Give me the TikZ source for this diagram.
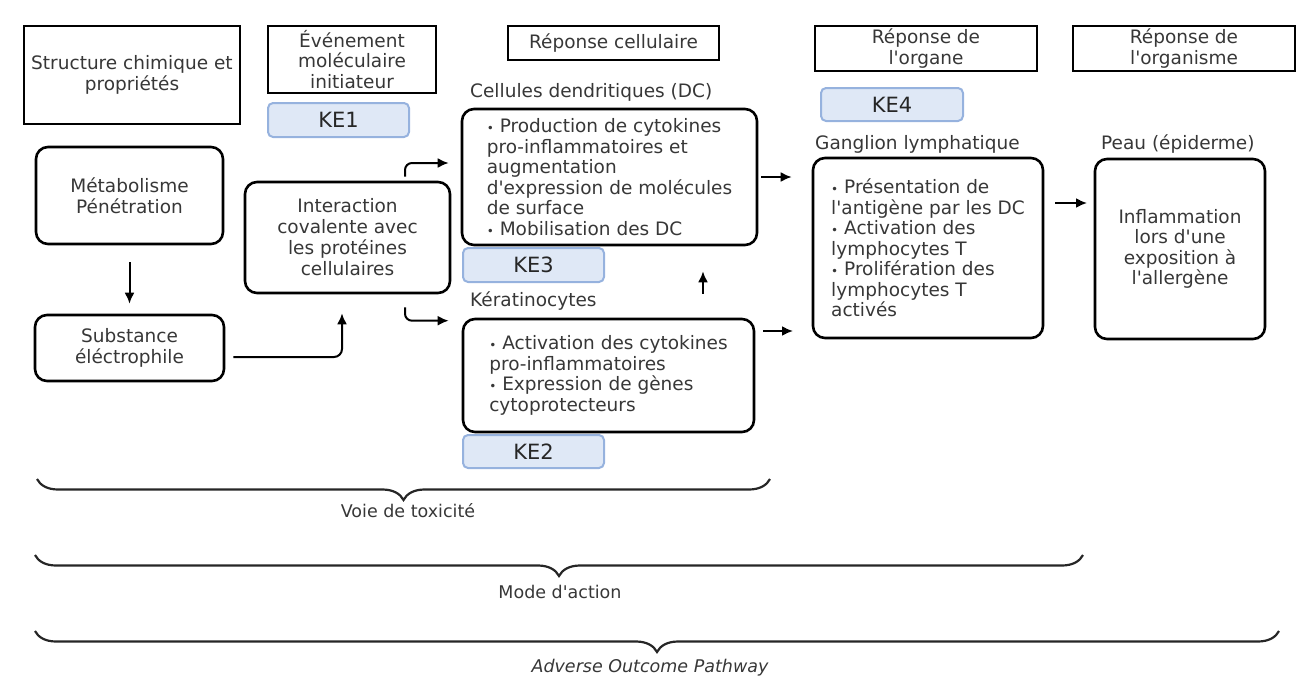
\documentclass[tikz,border=0pt]{standalone}
\usepackage{fontspec}
\setmainfont{DejaVu Sans}
\usetikzlibrary{arrows.meta,decorations.pathreplacing,calc}
\definecolor{txtgray}{RGB}{55,55,55}
\definecolor{kefill}{RGB}{223,232,246}
\definecolor{kedraw}{RGB}{150,178,222}
\newcommand{\bul}{{\fontsize{12}{12}\selectfont\textbullet}}
\newcommand{\apos}{\textquotesingle}
\tikzset{
  headbox/.style={draw=black, line width=2.6pt, align=center, inner sep=0pt, text=txtgray},
  stepbox/.style={draw=black, line width=2.6pt, rounded corners=12pt, align=center, inner sep=0pt, text=txtgray},
  listbox/.style={stepbox, align=left},
  kebox/.style={draw=kedraw, fill=kefill, line width=2pt, rounded corners=5pt, inner sep=0pt, text=black!85, font=\fontsize{21}{24}\selectfont},
  celllabel/.style={anchor=west, inner sep=0pt, text=txtgray},
  flow/.style={-{Latex[length=11pt,width=10pt]}, line width=2pt},
  bracebar/.style={decorate, decoration={brace, mirror, amplitude=21pt}, line width=2.2pt, draw=black!85},
  bracelabel/.style={inner sep=0pt, text=txtgray, font=\fontsize{17.5}{20}\selectfont},
}

\begin{document}
\begin{tikzpicture}[x=1pt,y=1pt,yscale=-1,xscale=1, font=\fontsize{18.5}{20.5}\selectfont]
\useasboundingbox (0,0) rectangle (1301,681);

% Header boxes
\node[headbox, minimum width=216, minimum height=98] (hstruct) at (132,75) {Structure chimique et\\propriétés};
\node[headbox, minimum width=168, minimum height=67] (hmie) at (352,59.5) {Événement\\moléculaire\\initiateur};
\node[headbox, minimum width=211, minimum height=34] (hcell) at (613.5,43) {Réponse cellulaire};
\node[headbox, minimum width=222, minimum height=45] (horgane) at (926,48.5) {Réponse de\\l\apos organe};
\node[headbox, minimum width=222, minimum height=45] (horganisme) at (1184,48.5) {Réponse de\\l\apos organisme};

% Key events
\node[kebox, minimum width=141, minimum height=34] (ke1) at (338.5,120) {KE1};
\node[kebox, minimum width=141, minimum height=34] (ke3) at (533.5,265) {KE3};
\node[kebox, minimum width=141, minimum height=33] (ke2) at (533.5,451.5) {KE2};
\node[kebox, minimum width=142, minimum height=33] (ke4) at (892,104.5) {KE4};

% Steps
\node[stepbox, minimum width=187, minimum height=97] (metab) at (129.5,195.5) {Métabolisme\\Pénétration};
\node[stepbox, minimum width=189, minimum height=66] (subst) at (129.5,348) {Substance\\éléctrophile};
\node[stepbox, minimum width=205, minimum height=111, font=\fontsize{18.5}{21}\selectfont] (interact) at (347.5,237.5) {Interaction\\covalente avec\\les protéines\\cellulaires};
\node[listbox, minimum width=295, minimum height=136] (dc) at (609.5,177) {\bul\ Production de cytokines\\pro-inflammatoires et\\augmentation\\d\apos expression de molécules\\de surface\\\bul\ Mobilisation des DC};
\node[listbox, minimum width=291, minimum height=113] (kera) at (608.5,375.5) {\bul\ Activation des cytokines\\pro-inflammatoires\\\bul\ Expression de gènes\\cytoprotecteurs};
\node[listbox, minimum width=230, minimum height=180] (gang) at (928,248) {\bul\ Présentation de\\l\apos antigène par les DC\\\bul\ Activation des\\lymphocytes T\\\bul\ Prolifération des\\lymphocytes T\\activés};
\node[stepbox, minimum width=170, minimum height=180] (peau) at (1180,249) {Inflammation\\lors d\apos une\\exposition à\\l\apos allergène};

% Labels
\node[celllabel] (ldc) at (470,92) {Cellules dendritiques (DC)};
\node[celllabel] (lkera) at (470,301) {Kératinocytes};
\node[celllabel] (lgang) at (815,144) {Ganglion lymphatique};
\node[celllabel] (lpeau) at (1101,144) {Peau (épiderme)};

% Arrows
\coordinate (upx) at (703,0);
\coordinate (k2g) at (793,331);
\coordinate (g2p) at (1087,203);
\draw[flow, shorten <=17pt, shorten >=10pt] (metab) -- (subst);
\draw[flow, rounded corners=8pt, shorten >=19pt] ($(subst.east)+(8,9)$) -| ($(interact.south)+(-5.5,0)$);
\draw[flow, rounded corners=7pt] ($(interact.north)+(57.5,-4)$) |- ($(dc.west)+(-12,-14)$);
\draw[flow, rounded corners=7pt] ($(interact.south)+(57.5,13)$) |- ($(kera.north west)+(-13,3)$);
\draw[flow, shorten <=24pt, shorten >=25pt] (kera.north -| upx) -- (dc.south -| upx);
\draw[flow, shorten <=3pt, shorten >=20pt] (dc.east) -- (dc.east -| gang.west);
\draw[flow, shorten <=8pt] (kera.east |- k2g) -- (k2g);
\draw[flow, shorten <=11pt] (gang.east |- g2p) -- (g2p);

% Braces
\draw[bracebar] (37,479) -- (770,479);
\draw[bracebar] (35,555) -- (1083,555);
\draw[bracebar] (35,631) -- (1279,631);
\node[bracelabel] (lvoie) at (408,511) {Voie de toxicité};
\node[bracelabel] (lmode) at (560,592) {Mode d\apos action};
\node[bracelabel, font=\fontsize{17.5}{20}\selectfont\itshape] (laop) at (650,668) {Adverse Outcome Pathway};

\end{tikzpicture}
\end{document}
